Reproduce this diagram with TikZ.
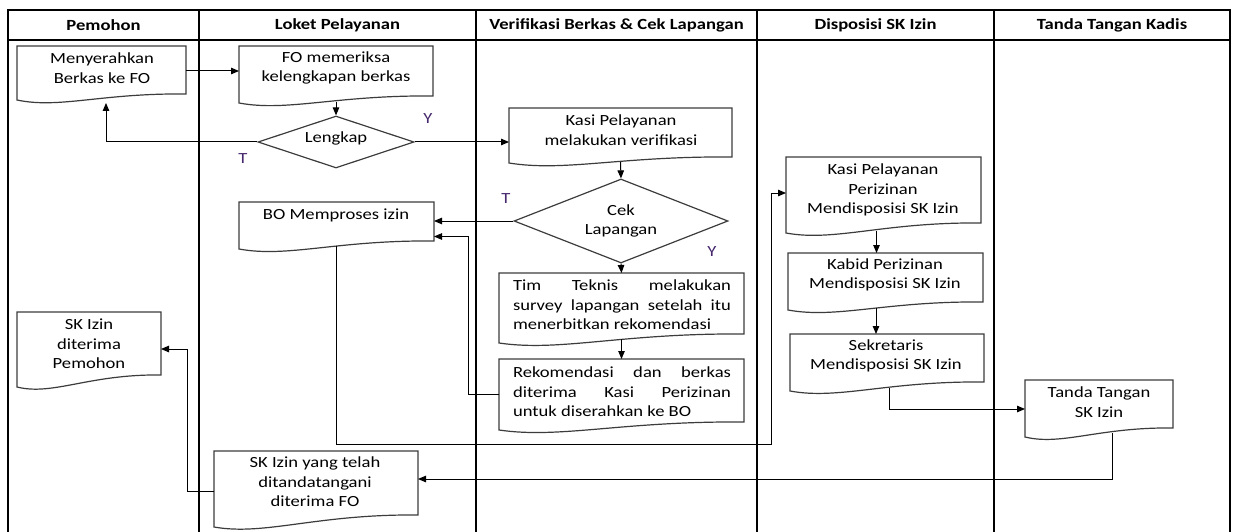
\documentclass[tikz,border=0pt]{standalone}
\usepackage{fontspec}
\setmainfont{Carlito}[FakeStretch=1.2]
\usetikzlibrary{arrows.meta,shapes.geometric,calc}
\definecolor{lbl}{RGB}{70,40,110}
\definecolor{boxc}{RGB}{60,60,60}
\tikzset{
  grid/.style={line width=1.4pt, black},
  boxline/.style={line width=1.2pt, draw=boxc, fill=white},
  txt/.style={font=\fontsize{15.5}{19.5}\selectfont, align=center, inner sep=0pt, text=black},
  hdr/.style={font=\fontsize{15.5}{19.5}\selectfont\bfseries, inner sep=0pt},
  conn/.style={line width=1pt, black, -{Triangle[length=8pt,width=6.5pt]}},
  yn/.style={font=\fontsize{15.5}{19.5}\selectfont, text=lbl, inner sep=0pt},
  dec/.style={diamond, draw=boxc, line width=1.2pt, fill=white, inner sep=0pt},
}
% name, x1, ytop, x2, yright-bottom, dip, text x, text y, text
\newcommand\docbox[9]{%
  \node[inner sep=0pt, outer sep=0pt, minimum width={#4-#2}, minimum height={#5-#3}] (#1) at ({(#2+#4)/2},{(#3+#5)/2}) {};
  \draw[boxline] (#1.north west) -- (#1.north east) -- (#1.south east)
    .. controls ($(#1.south)+(0,-1)$) and ($(#1.south west)!0.25!(#1.south east)+(0,#6+9)$) .. ($(#1.south west)+(0,#6)$) -- cycle;
  \node[txt] (#1-t) at (#7,#8) {#9};
}
\begin{document}
\begin{tikzpicture}[x=1pt,y=-1pt]
\useasboundingbox[fill=white] (0,0) rectangle (1237,532);
% lanes
\draw[grid] (8,532) -- (8,10) -- (1230,10) -- (1230,532);
\draw[grid] (8,40) -- (1230,40);
\foreach \cx in {199,476,757,994} \draw[grid] (\cx,10) -- (\cx,532);
\node[hdr] (h1) at (103.5,25) {Pemohon};
\node[hdr] (h2) at (337.5,25) {Loket Pelayanan};
\node[hdr] (h3) at (616.5,25) {Verifikasi Berkas \& Cek Lapangan};
\node[hdr] (h4) at (875.5,25) {Disposisi SK Izin};
\node[hdr] (h5) at (1112,25) {Tanda Tangan Kadis};
% boxes
\docbox{m}{17}{46}{186}{94}{6}{102}{68}{Menyerahkan\\Berkas ke FO}
\docbox{fo}{239}{46}{433}{96}{7}{336}{68}{FO memeriksa\\kelengkapan berkas}
\docbox{kv}{509}{108}{732}{157}{6}{621}{130}{Kasi Pelayanan\\melakukan verifikasi}
\docbox{bo}{239}{202}{434}{241}{8}{336}{215}{BO Memproses izin}
\docbox{tim}{499}{273}{744}{334}{9}{622}{305}{\makebox[218pt][s]{Tim Teknis melakukan}\\\makebox[218pt][s]{survey lapangan setelah itu}\\\makebox[218pt][l]{menerbitkan rekomendasi}}
\docbox{rek}{499}{359}{744}{422}{8}{622}{392}{\makebox[218pt][s]{Rekomendasi dan berkas}\\\makebox[218pt][s]{diterima Kasi Perizinan}\\\makebox[218pt][l]{untuk diserahkan ke BO}}
\docbox{kp}{786}{157}{981}{223}{10}{883}{190}{Kasi Pelayanan\\Perizinan\\Mendisposisi SK Izin}
\docbox{kb}{788}{253}{983}{302}{8}{885}{275}{Kabid Perizinan\\Mendisposisi SK Izin}
\docbox{sek}{790}{334}{984}{382}{9}{886}{356}{Sekretaris\\Mendisposisi SK Izin}
\docbox{tt}{1025}{380}{1173}{428}{9}{1099}{402}{Tanda Tangan\\SK Izin}
\docbox{sk1}{17}{312}{161}{375}{12}{89}{344}{SK Izin\\diterima\\Pemohon}
\docbox{sk2}{214}{451}{418}{515}{12}{315}{482}{SK Izin yang telah\\ditandatangani\\diterima FO}
% decisions
\node[dec, minimum width=156pt, minimum height=52pt] (lk) at (336,142) {};
\node[txt] (lk-t) at (336,138) {Lengkap};
\node[dec, minimum width=214pt, minimum height=84pt] (cek) at (621,221) {};
\node[txt] (cek-t) at (621,221) {Cek\\Lapangan};
% labels
\node[yn] (ly) at (428,119) {Y};
\node[yn] (lt) at (243,159) {T};
\node[yn] (ct) at (506,199) {T};
\node[yn] (cy) at (712,252) {Y};
% connectors
\draw[conn] (fo.west -| m.east) -- (fo.west);
\draw[conn] ($(fo.south)+(0,6)$) -- (lk.north);
\coordinate (mb) at ($(m.south)+(4.5,9)$);
\draw[conn] (lk.west) -| (mb);
\draw[conn] (lk.east) -- (lk.east -| kv.west);
\draw[conn] ($(kv.south)+(0,5)$) -- (cek.north);
\draw[conn] (cek.west) -- (cek.west -| bo.east);
\draw[conn] (cek.south) -- (tim.north);
\draw[conn] ($(tim.south)+(0,5)$) -- (rek.north);
\draw[conn] ($(rek.west)+(0,4)$) -| ($(bo.east)+(34,15)$) -- ($(bo.east)+(0,15)$);
\coordinate (j1) at (771,444);
\draw[conn] ($(bo.south)+(0,5)$) |- (j1) |- ($(kp.west)+(0,3)$);
\coordinate (kpb) at ($(kp.south)+(-7,8)$);
\draw[conn] (kpb) -- (kpb |- kb.north);
\coordinate (kbb) at ($(kb.south)+(-9.5,6)$);
\draw[conn] (kbb) -- (kbb |- sek.north);
\coordinate (sekb) at ($(sek.south)+(2,6)$);
\draw[conn] (sekb) |- ($(tt.west)+(0,5)$);
\coordinate (ttb) at ($(tt.south)+(13,5)$);
\draw[conn] (ttb) |- ($(sk2.east)+(0,-4)$);
\draw[conn] ($(sk2.west)+(0,8)$) -| ($(sk1.east)+(26,5.5)$) -- ($(sk1.east)+(0,5.5)$);
\end{tikzpicture}
\end{document}
